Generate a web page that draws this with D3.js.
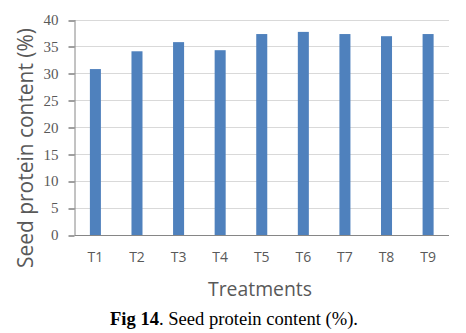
<!DOCTYPE html>
<html>
<head>
<meta charset="utf-8">
<script src="https://cdn.jsdelivr.net/npm/d3@7"></script>
<style>
html,body{margin:0;padding:0;background:#fff;}
svg{display:block;}
</style>
</head>
<body>
<svg id="chart" width="466" height="333"></svg>
<script>
const categories = ["T1","T2","T3","T4","T5","T6","T7","T8","T9"];
const values = [30.8, 34.1, 35.8, 34.3, 37.3, 37.7, 37.3, 36.9, 37.3];
const yTicks = [0,5,10,15,20,25,30,35,40];
const yTitle = "Seed protein content (%)";
const xTitle = "Treatments";
const captionBold = "Fig 14";
const captionRest = ". Seed protein content (%).";

const svg = d3.select("#chart");
const m = {left: 74.5, right: 449, top: 19.5, bottom: 235};

const x = d3.scaleBand().domain(categories).range([m.left, m.right]).paddingInner(0.735).paddingOuter(0.37);
const y = d3.scaleLinear().domain([0,40]).range([m.bottom, m.top]);

// gridlines
svg.append("g").selectAll("line").data(yTicks.filter(d=>d>0)).join("line")
  .attr("x1", m.left).attr("x2", m.right)
  .attr("y1", d=>Math.round(y(d))+0.5).attr("y2", d=>Math.round(y(d))+0.5)
  .attr("stroke", "#d9d9d9").attr("stroke-width", 1);

// bars
svg.append("g").selectAll("rect").data(values).join("rect")
  .attr("x", (d,i)=>x(categories[i]))
  .attr("width", x.bandwidth())
  .attr("y", d=>y(d))
  .attr("height", d=>y(0)-y(d))
  .attr("fill", "#4f81bd");

// y axis
const yAxis = d3.axisLeft(y).tickValues(yTicks).tickSize(6).tickPadding(10).tickSizeOuter(0);
const gy = svg.append("g").attr("transform", `translate(${m.left},0)`).call(yAxis);
gy.select(".domain").attr("stroke", "#868686");
gy.selectAll(".tick line").attr("stroke", "#404040").attr("transform", d=>`translate(0,${Math.round(y(d))+0.5-y(d)})`);
gy.selectAll(".tick text").attr("font-family", "'Liberation Serif', serif").attr("font-size", "15px").attr("fill", "#595959");

// x axis
const xAxis = d3.axisBottom(x).tickSize(0).tickPadding(17);
const gx = svg.append("g").attr("transform", `translate(0,${m.bottom})`).call(xAxis);
gx.select(".domain").attr("stroke", "#868686").attr("d", `M${m.left},0.5H${m.right}`);
gx.selectAll(".tick text").attr("font-family", "'Open Sans', sans-serif").attr("font-size", "14px").attr("fill", "#595959");

function fit(sel, target){
  const w = sel.node().getComputedTextLength();
  const fs = parseFloat(sel.attr("font-size"));
  sel.attr("font-size", (fs*target/w).toFixed(2)+"px");
}

// y title
const yt = svg.append("text")
  .attr("transform", "translate(33,148) rotate(-90)")
  .attr("text-anchor", "middle")
  .attr("font-family", "'Open Sans', sans-serif").attr("font-size", "20px")
  .attr("fill", "#595959").text(yTitle);
fit(yt, 240);

// x title
const xt = svg.append("text")
  .attr("x", 260).attr("y", 296)
  .attr("text-anchor", "middle")
  .attr("font-family", "'Open Sans', sans-serif").attr("font-size", "20px")
  .attr("fill", "#595959").text(xTitle);
fit(xt, 104);

// caption
const cap = svg.append("text")
  .attr("x", 234).attr("y", 325)
  .attr("text-anchor", "middle")
  .attr("font-family", "'Liberation Serif', serif").attr("font-size", "16px")
  .attr("fill", "#000");
cap.append("tspan").attr("font-weight", "bold").text(captionBold);
cap.append("tspan").text(captionRest);
fit(cap, 248);
</script>
</body>
</html>
